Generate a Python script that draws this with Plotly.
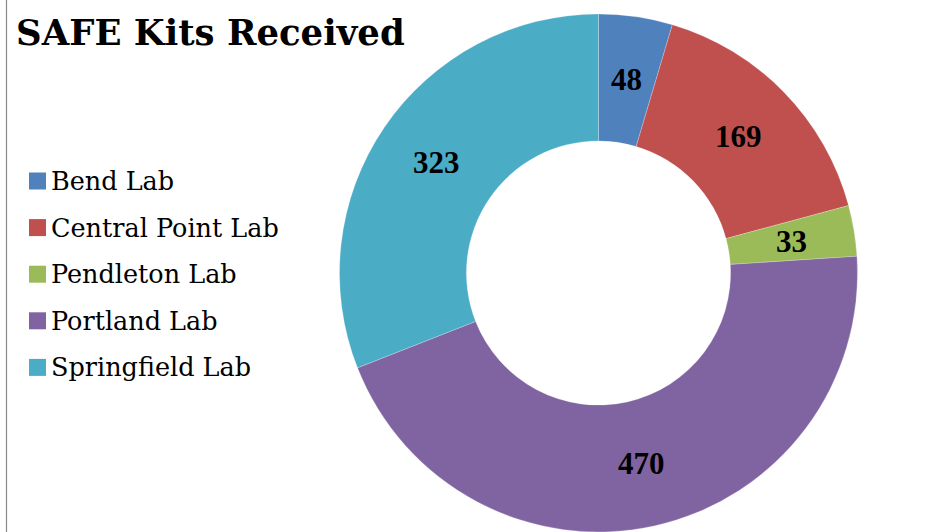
import math
import plotly.graph_objects as go

labels = ["Bend Lab", "Central Point Lab", "Pendleton Lab", "Portland Lab", "Springfield Lab"]
values = [48, 169, 33, 470, 323]
colors = ["#4F81BD", "#C0504D", "#9BBB59", "#8064A2", "#4BACC6"]
title_text = "SAFE Kits Received"

W, H = 936, 532
cx, cy, R = 598.5, 273.0, 259.0
HOLE = 0.51

fig = go.Figure()
fig.add_trace(go.Pie(
    labels=labels, values=values, sort=False, direction="clockwise", rotation=0,
    hole=HOLE, marker=dict(colors=colors, line=dict(color="rgba(255,255,255,0.45)", width=0.5)),
    textinfo="none",
    domain=dict(x=[(cx - R) / W, (cx + R) / W],
                y=[max(0.0, (H - cy - R) / H), min(1.0, (H - cy + R) / H)]),
    showlegend=False, hoverinfo="label+value",
))

shapes = [dict(type="line", xref="paper", yref="paper", x0=6.5 / W, x1=6.5 / W, y0=0, y1=1,
               line=dict(color="#8a8a8a", width=1.2))]
annotations = [dict(text="<b>" + title_text + "</b>", xref="paper", yref="paper",
                    x=14 / W, y=1 - 10 / H, xanchor="left", yanchor="top", showarrow=False,
                    font=dict(family="DejaVu Serif", size=35.5, color="black"))]

# data labels at the middle of each ring segment
total = float(sum(values))
r_mid = R * (1 + HOLE) / 2
cum = 0.0
for v in values:
    ang = (cum + v / 2) / total * 2 * math.pi
    cum += v
    px = cx + r_mid * math.sin(ang)
    py = cy - r_mid * math.cos(ang)
    annotations.append(dict(text="<b>%d</b>" % v, xref="paper", yref="paper",
                            x=px / W, y=1 - py / H, xanchor="center", yanchor="middle",
                            showarrow=False,
                            font=dict(family="Liberation Serif", size=31, color="black")))

y0, dy = 181.0, 46.6
for i, (lab, col) in enumerate(zip(labels, colors)):
    yc = y0 + i * dy
    shapes.append(dict(type="rect", xref="paper", yref="paper",
                       x0=29 / W, x1=46 / W, y0=1 - (yc + 8.5) / H, y1=1 - (yc - 8.5) / H,
                       fillcolor=col, line=dict(width=0)))
    annotations.append(dict(text=lab, xref="paper", yref="paper", x=49 / W, y=1 - yc / H,
                            xanchor="left", yanchor="middle", showarrow=False,
                            font=dict(family="DejaVu Serif", size=25.5, color="black")))

fig.update_layout(width=W, height=H, margin=dict(l=0, r=0, t=0, b=0),
                  paper_bgcolor="white", plot_bgcolor="white",
                  shapes=shapes, annotations=annotations)
fig.write_html("out.html", config={"displayModeBar": False},
               post_script="document.body.style.margin='0';")
